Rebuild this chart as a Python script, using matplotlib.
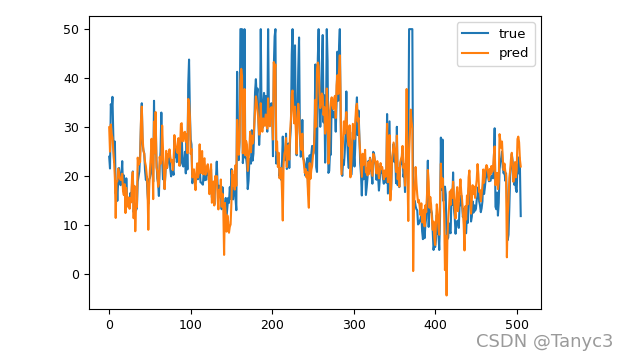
import matplotlib
matplotlib.use('Agg')
import matplotlib.pyplot as plt
import numpy as np

# house prices: true target vs. model prediction, one value per sample
y_true = [
    24.0, 21.6, 34.7, 33.4, 36.2, 28.7, 22.9, 27.1, 16.5, 18.9,
    15.0, 18.9, 21.7, 20.4, 18.2, 19.9, 23.1, 17.5, 20.2, 18.2,
    13.6, 19.6, 15.2, 14.5, 15.6, 13.9, 16.6, 14.8, 18.4, 21.0,
    12.7, 14.5, 13.2, 13.1, 13.5, 18.9, 20.0, 21.0, 24.7, 30.8,
    34.9, 26.6, 25.3, 24.7, 21.2, 19.3, 20.0, 16.6, 14.4, 19.4,
    19.7, 20.5, 25.0, 23.4, 18.9, 35.4, 24.7, 31.6, 23.3, 19.6,
    18.7, 16.0, 22.2, 25.0, 33.0, 23.5, 19.4, 22.0, 17.4, 20.9,
    24.2, 21.7, 22.8, 23.4, 24.1, 21.4, 20.0, 20.8, 21.2, 20.3,
    28.0, 23.9, 24.8, 22.9, 23.9, 26.6, 22.5, 22.2, 23.6, 28.7,
    22.6, 22.0, 22.9, 25.0, 20.6, 28.4, 21.4, 38.7, 43.8, 33.2,
    27.5, 26.5, 18.6, 19.3, 20.1, 19.5, 19.5, 20.4, 19.8, 19.4,
    21.7, 22.8, 18.8, 18.7, 18.5, 18.3, 21.2, 19.2, 20.4, 19.3,
    22.0, 20.3, 20.5, 17.3, 18.8, 21.4, 15.7, 16.2, 18.0, 14.3,
    19.2, 19.6, 23.0, 18.4, 15.6, 18.1, 17.4, 17.1, 13.3, 17.8,
    14.0, 14.4, 13.4, 15.6, 11.8, 13.8, 15.6, 14.6, 17.8, 15.4,
    21.5, 19.6, 15.3, 19.4, 17.0, 15.6, 13.1, 41.3, 24.3, 23.3,
    27.0, 50.0, 50.0, 50.0, 22.7, 25.0, 50.0, 23.8, 23.8, 22.3,
    17.4, 19.1, 23.1, 23.6, 22.6, 29.4, 23.2, 24.6, 29.9, 37.2,
    39.8, 36.2, 37.9, 32.5, 26.4, 29.6, 50.0, 32.0, 29.8, 34.9,
    37.0, 30.5, 36.4, 31.1, 29.1, 50.0, 33.3, 30.3, 34.6, 34.9,
    32.9, 24.1, 42.3, 48.5, 50.0, 22.6, 24.4, 22.5, 24.4, 20.0,
    21.7, 19.3, 22.4, 28.1, 23.7, 25.0, 23.3, 28.7, 21.5, 23.0,
    26.7, 21.7, 27.5, 30.1, 44.8, 50.0, 37.6, 31.6, 46.7, 31.5,
    24.3, 31.7, 41.7, 48.3, 29.0, 24.0, 25.1, 31.5, 23.7, 23.3,
    22.0, 20.1, 22.2, 23.7, 17.6, 18.5, 24.3, 20.5, 24.5, 26.2,
    24.4, 24.8, 29.6, 42.8, 21.9, 20.9, 44.0, 50.0, 36.0, 30.1,
    33.8, 43.1, 48.8, 31.0, 36.5, 22.8, 30.7, 50.0, 43.5, 20.7,
    21.1, 25.2, 24.4, 35.2, 32.4, 32.0, 33.2, 33.1, 29.1, 35.1,
    45.4, 35.4, 46.0, 50.0, 32.2, 22.0, 20.1, 23.2, 22.3, 24.8,
    28.5, 37.3, 27.9, 23.9, 21.7, 28.6, 27.1, 20.3, 22.5, 29.0,
    24.8, 22.0, 26.4, 33.1, 36.1, 28.4, 33.4, 28.2, 22.8, 20.3,
    16.1, 22.1, 19.4, 21.6, 23.8, 16.2, 17.8, 19.8, 23.1, 21.0,
    23.8, 23.1, 20.4, 18.5, 25.0, 24.6, 23.0, 22.2, 19.3, 22.6,
    19.8, 17.1, 19.4, 22.2, 20.7, 21.1, 19.5, 18.5, 20.6, 19.0,
    18.7, 32.7, 16.5, 23.9, 31.2, 17.5, 17.2, 23.1, 24.5, 26.6,
    22.9, 24.1, 18.6, 30.1, 18.2, 20.6, 17.8, 21.7, 22.7, 22.6,
    25.0, 19.9, 20.8, 16.8, 21.9, 27.5, 21.9, 23.1, 50.0, 50.0,
    50.0, 50.0, 50.0, 13.8, 13.8, 15.0, 13.9, 13.3, 13.1, 10.2,
    10.4, 10.9, 11.3, 12.3, 8.8, 7.2, 10.5, 7.4, 10.2, 11.5,
    15.1, 23.2, 9.7, 13.8, 12.7, 13.1, 12.5, 8.5, 5.0, 6.3,
    5.6, 7.2, 12.1, 8.3, 8.5, 5.0, 11.9, 27.9, 17.2, 27.5,
    15.0, 17.2, 17.9, 16.3, 7.0, 7.2, 7.5, 10.4, 8.8, 8.4,
    16.7, 14.2, 20.8, 13.4, 11.7, 8.3, 10.2, 10.9, 11.0, 9.5,
    14.5, 14.1, 16.1, 14.3, 11.7, 13.4, 9.6, 8.7, 8.4, 12.8,
    10.5, 17.1, 18.4, 15.4, 10.8, 11.8, 14.9, 12.6, 14.1, 13.0,
    13.4, 15.2, 16.1, 17.8, 14.9, 14.1, 12.7, 13.5, 14.9, 20.0,
    16.4, 17.7, 19.5, 20.2, 21.4, 19.9, 19.0, 19.1, 19.1, 20.1,
    19.9, 19.6, 23.2, 29.8, 13.8, 13.3, 16.7, 12.0, 14.6, 21.4,
    23.0, 23.7, 25.0, 21.8, 20.6, 21.2, 19.1, 20.6, 15.2, 7.0,
    8.1, 13.6, 20.1, 21.8, 24.5, 23.1, 19.7, 18.3, 21.2, 17.5,
    16.8, 22.4, 20.6, 23.9, 22.0, 11.9,
]

y_pred = [
    30.00, 25.03, 30.57, 28.61, 27.94, 25.26, 23.00, 19.54, 11.52, 18.92,
    19.00, 21.59, 20.91, 19.55, 19.28, 19.30, 20.53, 16.91, 16.18, 18.41,
    12.52, 17.67, 15.83, 13.81, 15.68, 13.39, 15.46, 14.71, 19.55, 20.88,
    11.46, 18.06, 8.81, 14.28, 13.71, 23.81, 22.34, 23.11, 22.92, 31.36,
    34.22, 28.02, 25.20, 24.61, 22.94, 22.10, 20.42, 18.04, 9.11, 17.21,
    21.28, 23.97, 27.66, 24.05, 15.36, 31.15, 24.86, 33.11, 21.78, 21.08,
    17.87, 18.51, 23.99, 22.55, 23.37, 30.36, 25.53, 21.11, 17.42, 20.78,
    25.20, 21.74, 24.56, 24.04, 25.50, 23.97, 22.95, 23.36, 21.26, 22.43,
    28.41, 26.99, 26.04, 25.06, 24.78, 27.79, 22.17, 25.89, 30.67, 30.83,
    27.12, 27.41, 28.94, 29.08, 27.04, 28.62, 24.73, 35.78, 35.11, 32.25,
    24.58, 25.59, 19.79, 20.31, 21.43, 18.54, 17.19, 20.75, 22.65, 19.77,
    20.65, 26.53, 20.77, 20.72, 25.17, 20.43, 23.38, 23.69, 20.34, 20.79,
    21.92, 22.47, 20.56, 16.37, 20.56, 22.48, 14.62, 15.18, 18.94, 14.06,
    20.04, 19.41, 20.06, 15.76, 13.26, 17.26, 15.88, 19.36, 13.81, 16.45,
    13.57, 3.99, 14.59, 12.15, 8.73, 12.04, 10.80, 8.51, 9.72, 10.20,
    14.76, 21.20, 18.16, 20.18, 17.29, 22.27, 18.09, 31.50, 26.90, 24.40,
    27.80, 39.20, 41.90, 40.50, 24.70, 27.60, 37.80, 24.30, 27.20, 26.50,
    21.10, 23.40, 25.60, 29.10, 24.90, 28.30, 26.70, 27.40, 30.60, 33.40,
    36.30, 35.20, 33.50, 31.60, 28.50, 28.70, 34.90, 30.20, 29.10, 31.80,
    31.70, 30.30, 32.60, 31.20, 29.70, 35.90, 31.40, 30.20, 33.80, 34.10,
    32.10, 27.50, 43.30, 41.20, 42.80, 25.30, 27.10, 21.90, 24.80, 19.60,
    20.40, 21.70, 17.00, 11.00, 22.50, 24.60, 25.30, 27.80, 21.90, 24.70,
    26.30, 23.40, 29.10, 31.60, 36.80, 37.50, 33.40, 30.80, 34.20, 29.50,
    24.60, 31.50, 34.80, 32.70, 28.90, 26.20, 25.40, 28.70, 24.10, 22.30,
    20.70, 21.50, 19.80, 20.90, 16.30, 13.60, 22.70, 19.50, 21.30, 22.10,
    24.10, 25.30, 28.20, 35.60, 30.10, 41.80, 43.20, 42.50, 37.10, 33.90,
    34.80, 36.90, 36.40, 32.50, 34.10, 28.70, 29.80, 37.90, 34.30, 22.60,
    24.90, 33.40, 35.20, 36.10, 34.60, 33.70, 35.80, 36.40, 31.90, 38.50,
    40.60, 36.80, 41.30, 44.67, 35.40, 20.40, 24.10, 27.60, 31.20, 28.70,
    30.90, 33.10, 29.80, 27.30, 26.20, 30.40, 19.80, 22.40, 26.10, 30.70,
    29.20, 27.60, 31.30, 34.10, 34.80, 31.20, 31.90, 27.40, 24.90, 22.60,
    19.90, 24.60, 22.30, 23.10, 25.40, 20.80, 21.60, 20.20, 22.90, 20.50,
    23.70, 22.80, 21.40, 20.10, 24.60, 24.20, 23.30, 22.40, 20.60, 23.10,
    21.30, 19.60, 20.80, 22.70, 21.50, 21.90, 20.80, 19.40, 21.20, 19.90,
    20.70, 30.70, 18.80, 25.20, 28.40, 15.10, 18.30, 23.40, 24.70, 26.90,
    25.80, 24.60, 20.90, 28.30, 19.40, 21.60, 17.90, 22.80, 23.50, 24.10,
    26.20, 21.70, 22.40, 18.10, 24.30, 37.80, 20.50, 10.90, 24.50, 28.70,
    33.60, 31.20, 29.80, 0.70, 13.80, 17.50, 21.90, 18.60, 16.30, 14.70,
    15.20, 13.80, 12.10, 14.50, 10.60, 11.90, 13.20, 9.80, 14.10, 12.70,
    16.40, 21.30, 18.90, 13.60, 15.80, 14.20, 11.30, 9.10, 10.80, 7.40,
    6.00, 10.50, 14.30, 12.20, 9.60, 8.10, 15.40, 22.60, 17.80, 19.60,
    16.90, 12.40, 0.90, 7.90, -4.28, 7.50, 11.20, 13.60, 16.90, 14.20,
    17.30, 15.60, 18.90, 16.10, 13.20, 11.40, 15.70, 17.80, 12.90, 14.60,
    17.20, 19.40, 16.80, 15.30, 12.60, 10.10, 4.90, 13.90, 11.20, 16.10,
    14.30, 19.80, 21.20, 17.60, 12.40, 15.30, 18.20, 16.40, 17.90, 15.60,
    17.80, 19.30, 22.50, 20.40, 16.80, 17.20, 14.90, 16.30, 18.10, 21.40,
    18.70, 20.10, 21.60, 22.30, 21.80, 20.70, 19.20, 21.50, 20.40, 22.10,
    20.90, 21.40, 24.30, 26.10, 18.20, 20.30, 20.70, 17.40, 18.90, 28.60,
    27.20, 25.80, 27.10, 23.40, 21.30, 22.60, 21.10, 20.20, 3.50, 12.10,
    14.80, 19.70, 21.20, 23.50, 24.80, 22.60, 18.90, 20.40, 22.90, 19.80,
    21.30, 27.60, 28.10, 26.90, 23.40, 22.00,
]

fig = plt.figure(figsize=(6.24, 3.57), dpi=100)
ax = fig.add_axes([0.142, 0.135, 0.7255, 0.8207])

ax.plot(np.arange(len(y_true)), y_true, label='true')
ax.plot(np.arange(len(y_pred)), y_pred, label='pred')
ax.tick_params(labelsize=9)
ax.legend(loc='upper right', fontsize=9.5)

# watermark of the source page, bottom right
fig.text(0.983, 0.042, 'CSDN @Tanyc3', ha='right', va='center',
         fontsize=13, color='#9a9a9a')

fig.savefig('out.png', dpi=100)
